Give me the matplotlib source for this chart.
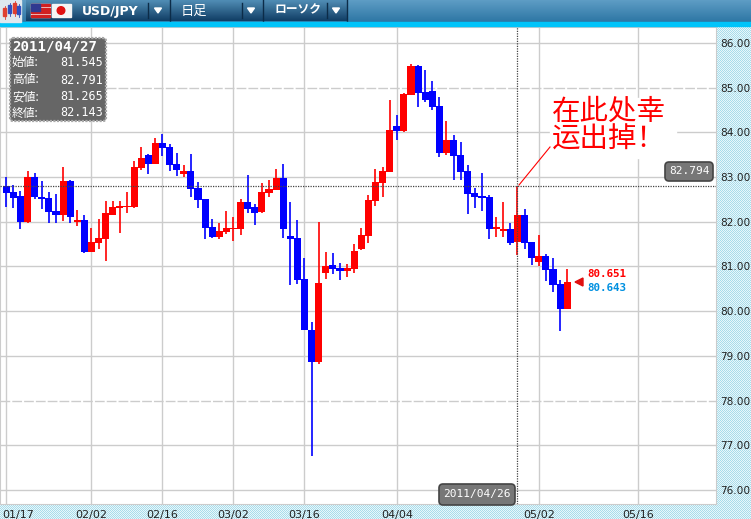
import matplotlib
matplotlib.use('Agg')
import matplotlib.pyplot as plt
import numpy as np
from matplotlib.patches import Rectangle, FancyBboxPatch, Polygon, Circle
from matplotlib.transforms import ScaledTranslation

# Data
opens = [82.80, 82.66, 82.57, 82.00, 83.00, 82.55, 82.53, 82.24, 82.15, 82.91,
         82.00, 82.04, 81.32, 81.52, 81.61, 82.15, 82.31, 82.33, 82.33, 83.20,
         83.49, 83.29, 83.76, 83.67, 83.29, 83.07, 83.13, 82.75, 82.51, 81.88,
         81.66, 81.77, 81.84, 81.84, 82.44, 82.33, 82.22, 82.64, 82.71, 82.98,
         81.68, 81.64, 80.72, 79.58, 78.86, 80.85, 81.03, 80.96, 80.90, 80.94,
         81.39, 81.68, 82.46, 82.87, 83.11, 84.14, 84.03, 84.83, 85.48, 84.90,
         84.92, 84.59, 83.54, 83.83, 83.49, 83.13, 82.64, 82.57, 82.55, 81.84,
         81.79, 81.84, 81.545, 82.15, 81.55, 81.10, 81.23, 80.94, 80.61, 80.05]
highs = [83.00, 82.82, 82.69, 83.13, 83.09, 82.91, 82.66, 82.62, 83.22, 82.93,
         82.26, 82.15, 81.86, 82.06, 82.46, 82.46, 82.46, 82.66, 83.36, 83.67,
         83.51, 83.87, 83.96, 83.74, 83.54, 83.27, 83.51, 82.89, 82.51, 82.06,
         81.97, 82.24, 82.11, 82.51, 83.05, 82.40, 82.87, 82.93, 83.18, 83.29,
         82.44, 82.04, 81.19, 79.76, 82.00, 81.32, 81.30, 81.08, 81.05, 81.50,
         81.86, 82.60, 83.18, 83.22, 84.72, 84.39, 84.88, 85.53, 85.51, 85.39,
         85.15, 84.79, 84.25, 83.94, 83.78, 83.27, 82.75, 83.09, 82.60, 82.11,
         82.44, 81.97, 82.791, 82.28, 81.55, 81.70, 81.28, 81.19, 80.70, 80.94]
lows = [82.33, 82.31, 81.84, 81.97, 82.51, 82.28, 81.97, 81.97, 82.02, 81.97,
        81.90, 81.30, 81.32, 81.39, 81.13, 82.15, 81.75, 82.19, 82.31, 83.16,
        83.07, 83.29, 83.47, 83.13, 83.02, 83.00, 82.55, 82.31, 81.61, 81.64,
        81.61, 81.73, 81.57, 81.70, 82.19, 81.93, 82.19, 82.55, 82.71, 81.64,
        80.58, 80.61, 79.58, 76.76, 78.82, 80.72, 80.83, 80.70, 80.76, 80.85,
        81.37, 81.52, 82.35, 82.55, 83.11, 83.83, 84.01, 84.83, 84.57, 84.68,
        84.50, 83.45, 83.49, 82.93, 82.93, 82.17, 82.31, 82.24, 81.61, 81.66,
        81.66, 81.48, 81.265, 81.39, 81.03, 81.01, 80.67, 80.43, 79.56, 80.05]
closes = [82.64, 82.53, 82.00, 83.00, 82.55, 82.51, 82.22, 82.15, 82.91, 82.11,
          82.04, 81.32, 81.55, 81.64, 82.19, 82.33, 82.35, 82.35, 83.22, 83.43,
          83.29, 83.76, 83.65, 83.27, 83.16, 83.13, 82.73, 82.49, 81.86, 81.66,
          81.79, 81.86, 81.86, 82.44, 82.28, 82.19, 82.66, 82.73, 82.98, 81.84,
          81.61, 80.70, 79.58, 78.86, 80.63, 81.01, 80.94, 80.90, 80.96, 81.35,
          81.70, 82.49, 82.89, 83.13, 84.05, 84.03, 84.86, 85.48, 84.88, 84.72,
          84.57, 83.54, 83.83, 83.47, 83.11, 82.62, 82.55, 82.53, 81.84, 81.88,
          81.84, 81.52, 82.143, 81.52, 81.19, 81.23, 80.92, 80.58, 80.05, 80.651]

date_ticks = [0, 12, 22, 32, 42, 55, 75, 89]
date_labels = ['01/17', '02/02', '02/16', '03/02', '03/16', '04/04', '05/02', '05/16']
price_ticks = [76, 77, 78, 79, 80, 81, 82, 83, 84, 85, 86]
price_labels = ['76.00', '77.00', '78.00', '79.00', '80.00', '81.00', '82.00', '83.00', '84.00', '85.00', '86.00']
cursor_bar = 72
cursor_price = 82.794
panel_rows = [('始値:', '81.545'), ('高値:', '82.791'), ('安値:', '81.265'), ('終値:', '82.143')]

W, H = 751, 519
cjk = ['Noto Sans CJK JP', 'DejaVu Sans']
fig = plt.figure(figsize=(W/100, H/100), dpi=100)

# Dithered page background
bg = fig.add_axes([0, 0, 1, 1], zorder=0)
yy, xx = np.indices((H, W))
bg.imshow((xx + yy) % 2, cmap=matplotlib.colors.ListedColormap(['#a9dcea', '#e8f7fb']),
          interpolation='none', aspect='auto')
bg.axis('off')

# Chart axes, placed in pixels
left, right, top, bottom = 0, 716, 27, 504
ax = fig.add_axes([left/W, 1-bottom/H, (right-left)/W, (bottom-top)/H], zorder=1)
ax.set_xlim(-0.887, 99.96)
ax.set_ylim(75.685, 86.356)
ax.set_facecolor('white')

up = [i for i in range(len(opens)) if closes[i] >= opens[i]]
down = [i for i in range(len(opens)) if closes[i] < opens[i]]
for idx, c in ((down, '#0000ff'), (up, '#ff0000')):
    ax.vlines(idx, [lows[i] for i in idx], [highs[i] for i in idx], color=c, lw=1.2, zorder=3)
    ax.bar(idx, [abs(closes[i]-opens[i]) for i in idx], bottom=[min(opens[i], closes[i]) for i in idx],
           width=1.0, color=c, antialiased=False, zorder=3)

# Details
ax.set_axisbelow(True)
ax.grid(color='#cccccc', lw=1.0)
ax.set_xticks(date_ticks, date_labels)
ax.set_yticks(price_ticks, price_labels)
ax.yaxis.tick_right()
ax.tick_params(length=0, labelsize=7.6, colors='#222222')
ax.tick_params(axis='x', pad=4, labelsize=8)
ax.tick_params(axis='y', pad=3)
for i, g in enumerate(ax.get_ygridlines()):
    if price_ticks[i] in (78, 85):
        g.set_linestyle((0, (7, 1.5)))
first = ax.get_xticklabels()[0]
first.set_ha('left')
first.set_transform(first.get_transform() + ScaledTranslation(-4/100, 0, fig.dpi_scale_trans))
for s in ax.spines.values():
    s.set_color('#cccccc')
ax.axhline(cursor_price, color='#444444', lw=0.9, ls=(0, (1, 1)), zorder=4)
ax.axvline(cursor_bar, color='#444444', lw=0.9, ls=(0, (1, 1)), zorder=4)

# Overlay in pixel coordinates
ov = fig.add_axes([0, 0, 1, 1], zorder=2)
ov.set_xlim(0, W)
ov.set_ylim(H, 0)
ov.axis('off')
ov.patch.set_alpha(0)

# Header bar
grad = np.linspace(0, 1, 22)[:, None]
hdr = matplotlib.colors.LinearSegmentedColormap.from_list('hdr', ['#5d9cc4', '#2e77a5'])
ov.imshow(grad, cmap=hdr, extent=(0, W, 22, 0), aspect='auto', zorder=1)
btn = matplotlib.colors.LinearSegmentedColormap.from_list('btn', ['#4f8cb4', '#123f66'])
for x0, x1 in ((26, 170), (171, 263), (264, 347)):
    ov.imshow(grad, cmap=btn, extent=(x0, x1, 21, 0), aspect='auto', zorder=2)
    ov.plot([x1, x1], [0, 21], color='#0c2c48', lw=1, zorder=3)
ov.set_xlim(0, W)
ov.set_ylim(H, 0)
ov.add_patch(Rectangle((0, 22), W, 4, color='#00c4fa', zorder=3))
ov.add_patch(Rectangle((0, 0), 21, 22, color='#dfe8ee', zorder=3))
for x0, y0, h, c in ((3, 8, 8, '#e04030'), (8, 5, 8, '#3050c0'), (13, 3, 10, '#e04030'), (17, 6, 8, '#3050c0')):
    ov.add_patch(Rectangle((x0, y0), 3, h, color=c, zorder=4))
    ov.plot([x0+1.5, x0+1.5], [y0-2, y0+h+3], color=c, lw=0.6, zorder=4)
# Flags
ov.add_patch(Rectangle((31, 4), 19, 13, color='white', zorder=4))
for k in range(4):
    ov.add_patch(Rectangle((31, 4+k*3.7), 19, 1.9, color='#d02020', zorder=4))
ov.add_patch(Rectangle((31, 4), 9, 7, color='#303a90', zorder=5))
ov.add_patch(Rectangle((52, 4), 19, 13, color='#f4f4f4', zorder=4))
ov.add_patch(Circle((61, 10.5), 3.8, color='#e01010', zorder=5))
# Header labels
ov.text(82, 11, 'USD/JPY', color='white', fontsize=9, fontweight='bold', va='center', zorder=6)
ov.text(181, 11, '日足', color='white', fontsize=9.5, family=cjk, va='center', zorder=6)
ov.text(275, 10, 'ローソク', color='white', fontsize=8.5, family=cjk, fontweight='bold', va='center', zorder=6)
for xs, xa in ((148, 158), (242, 251), (327, 336)):
    ov.plot([xs, xs], [3, 18], color='#0c2c48', lw=1, zorder=6)
    ov.add_patch(Polygon([(xa-3.5, 8), (xa+3.5, 8), (xa, 13)], color='white', zorder=6))

# Open/high/low/close panel
ov.add_patch(FancyBboxPatch((10, 38), 96, 83, boxstyle='round,pad=0,rounding_size=3',
                            fc='#666666', ec='#a8a8a8', lw=1.6, ls=(0, (1, 0.6)), zorder=6))
ov.text(12.5, 46, '2011/04/27', color='white', family='DejaVu Sans Mono', fontweight='bold',
        fontsize=10.2, va='center', zorder=7)
for (lab, val), y in zip(panel_rows, (62, 80, 97, 113)):
    ov.text(12, y, lab, color='white', family=cjk, fontsize=8.5, va='center', zorder=7)
    ov.text(103, y, val, color='white', family='DejaVu Sans Mono', fontsize=8.5, va='center', ha='right', zorder=7)

# Callout
ov.add_patch(Rectangle((550, 98), 126, 60, color='white', zorder=5))
ov.plot([519, 550], [185, 147], color='#ff0000', lw=0.8, zorder=6)
ov.text(552, 112, '在此处幸', color='#ff0000', family=['Noto Sans CJK SC', 'DejaVu Sans'], fontsize=20.5,
        va='center', zorder=7)
ov.text(552, 140, '运出掉！', color='#ff0000', family=['Noto Sans CJK SC', 'DejaVu Sans'], fontsize=20.5,
        va='center', zorder=7)

# Cursor value boxes
for x0, y0, w, h, txt in ((665, 162, 48, 19, '82.794'), (439, 484, 76, 21, '2011/04/26')):
    ov.add_patch(FancyBboxPatch((x0, y0), w, h, boxstyle='round,pad=0,rounding_size=4',
                                fc='#777777', ec='#444444', lw=1.2, zorder=6))
    ov.text(x0+w/2, y0+h/2, txt, color='white', family='DejaVu Sans Mono', fontsize=8,
            ha='center', va='center', zorder=7)

# Last prices
ov.add_patch(Polygon([(575, 282), (583, 278), (583, 286)], color='#e01010', zorder=6))
ov.text(587, 274, '80.651', color='#ff0000', family='DejaVu Sans Mono', fontweight='bold', fontsize=7.8, va='center', zorder=7)
ov.text(587, 288, '80.643', color='#0090e0', family='DejaVu Sans Mono', fontweight='bold', fontsize=7.8, va='center', zorder=7)

# Save
fig.savefig('out.png', dpi=100)
